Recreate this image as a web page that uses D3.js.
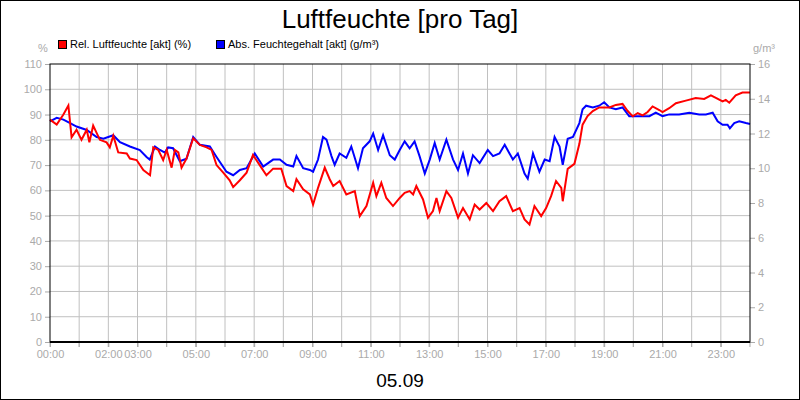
<!DOCTYPE html>
<html><head><meta charset="utf-8">
<script src="https://d3js.org/d3.v7.min.js"></script>
<style>body{margin:0;background:#fff}svg{display:block}</style>
</head><body><svg id="c" width="800" height="400"></svg>
<script>
const redTimes=[0,0.23,0.46,0.63,0.74,0.91,1.08,1.26,1.35,1.48,1.71,1.94,2.05,2.17,2.34,2.63,2.74,2.97,3.2,3.43,3.54,3.71,3.88,4.0,4.17,4.28,4.4,4.51,4.68,4.91,5.14,5.37,5.54,5.71,5.94,6.16,6.28,6.51,6.74,6.96,7.19,7.42,7.65,7.93,8.11,8.34,8.45,8.68,8.91,9.02,9.19,9.42,9.59,9.71,9.93,10.16,10.45,10.62,10.85,11.08,11.19,11.36,11.53,11.76,11.99,12.16,12.33,12.45,12.56,12.79,12.96,13.13,13.25,13.36,13.59,13.76,13.99,14.16,14.39,14.56,14.73,14.96,15.19,15.41,15.64,15.87,16.1,16.27,16.44,16.61,16.84,17.01,17.18,17.35,17.53,17.58,17.75,17.98,18.15,18.26,18.43,18.61,18.83,19.18,19.4,19.63,19.8,19.98,20.15,20.32,20.49,20.66,20.89,21.0,21.23,21.46,21.8,22.14,22.43,22.66,22.83,23.06,23.17,23.29,23.51,23.74,24];
const redValues=[88,86,90,93.6,81,84,80,84,79,85.6,80,79,77,81.6,75,74.6,72.6,72,68,66,77,76,72,76,69,76,75,69,72.6,80.6,78,77,76,70,67,64,61.3,64,67,74,70,66,68.6,68.6,61.7,59.7,64.4,60.4,58.4,54.4,61,69,64.4,61.7,63.7,58.4,59.7,49.8,53.8,63,57.7,63,57,53.8,57,59,59.7,58.4,61.7,56.4,49.2,51.8,57,51.8,59.7,57,49.2,53,48.5,54.4,52.4,55,51.8,55.7,57.7,51.8,53,48.5,46.5,53.8,49.8,53,57.7,63.7,61,55.7,68.5,70.5,78.4,86,89.4,91.4,92.8,92.8,93.8,94.2,91.5,89.3,90.6,89.7,91,93.2,91.8,91,92.5,94.5,95.5,96.5,96.2,97.6,96.6,95.2,95.8,94.7,97.6,98.7,98.7];
const blueTimes=[0,0.23,0.46,0.69,0.91,1.26,1.6,1.83,2.17,2.4,2.74,3.08,3.31,3.42,3.6,3.77,3.94,4.05,4.22,4.45,4.68,4.91,5.14,5.48,5.71,6.05,6.28,6.51,6.74,7.02,7.31,7.65,7.88,8.11,8.34,8.45,8.68,8.91,9.02,9.19,9.36,9.48,9.65,9.76,9.93,10.16,10.33,10.56,10.73,10.96,11.08,11.25,11.42,11.65,11.82,11.99,12.16,12.33,12.5,12.67,12.85,13.02,13.19,13.36,13.59,13.82,13.99,14.16,14.33,14.5,14.73,15.01,15.19,15.41,15.59,15.87,16.04,16.27,16.38,16.56,16.78,16.96,17.13,17.3,17.47,17.58,17.75,17.93,18.15,18.26,18.38,18.61,18.83,19.0,19.18,19.4,19.63,19.86,20.09,20.32,20.55,20.77,21.0,21.23,21.57,21.92,22.26,22.49,22.72,22.89,23.06,23.23,23.31,23.46,23.63,23.86,24];
const blueValues=[12.7,12.9,12.8,12.6,12.4,12.2,11.8,11.7,11.9,11.5,11.25,11.05,10.65,10.5,11.25,11.05,10.9,11.2,11.15,10.4,10.55,11.8,11.35,11.25,10.65,9.8,9.6,9.9,10.0,10.85,10.1,10.5,10.5,10.2,10.1,10.7,10.0,9.9,9.8,10.5,11.8,11.65,10.7,10.2,10.85,10.6,11.25,10.0,11.15,11.55,12.0,11.05,11.9,10.75,10.5,11.05,11.55,11.15,11.55,10.7,9.7,10.5,11.45,10.5,11.65,10.5,9.9,10.85,9.7,10.75,10.3,11.05,10.7,10.85,11.35,10.5,10.85,9.7,9.4,10.85,9.8,10.5,10.4,11.8,11.25,10.2,11.7,11.8,12.6,13.4,13.6,13.5,13.6,13.8,13.5,13.4,13.5,13.0,13.0,13.0,13.0,13.2,13.0,13.1,13.1,13.2,13.1,13.1,13.2,12.7,12.5,12.5,12.3,12.6,12.7,12.6,12.55];
const leftTicks=[0,10,20,30,40,50,60,70,80,90,100,110];
const rightTicks=[0,2,4,6,8,10,12,14,16];
const hourLabels=["00:00","02:00","03:00","05:00","07:00","09:00","11:00","13:00","15:00","17:00","19:00","21:00","23:00"];
const hourLabelPos=[0,2,3,5,7,9,11,13,15,17,19,21,23];
const hours=d3.range(0,25);
const title="Luftfeuchte [pro Tag]", dateLabel="05.09";
const seriesNames=["Rel. Luftfeuchte [akt] (%)","Abs. Feuchtegehalt [akt] (g/m³)"];

const svg=d3.select("#c"), F="Arial, 'Liberation Sans', sans-serif", G="#aaaaaa";
svg.append("rect").attr("x",0.5).attr("y",0.5).attr("width",799).attr("height",399).attr("fill","#fff").attr("stroke","#000");
const L=50,R=750,T=64,B=342;
const x=d3.scaleLinear().domain([0,24]).range([L,R]);
const yL=d3.scaleLinear().domain([0,110]).range([B,T]);
const yR=d3.scaleLinear().domain([0,16]).range([B,T]);
// grid
svg.append("g").selectAll("line").data(hours.slice(1,24)).join("line")
 .attr("x1",d=>x(d)).attr("x2",d=>x(d)).attr("y1",T).attr("y2",B+5).attr("stroke","#c0c0c0");
svg.append("g").selectAll("line").data(leftTicks.slice(1,11)).join("line")
 .attr("x1",L).attr("x2",R).attr("y1",d=>yL(d)).attr("y2",d=>yL(d)).attr("stroke","#c0c0c0");
// axes
const ax=svg.append("g").attr("transform",`translate(${L},0)`).call(d3.axisLeft(yL).tickValues(leftTicks).tickSize(5).tickPadding(3));
const axr=svg.append("g").attr("transform",`translate(${R},0)`).call(d3.axisRight(yR).tickValues(rightTicks).tickSize(5).tickPadding(3));
const axb=svg.append("g").attr("transform",`translate(0,${B})`).call(d3.axisBottom(x).tickValues(hourLabelPos).tickFormat((d,i)=>hourLabels[i]).tickSize(5).tickPadding(3));
[ax,axr,axb].forEach(a=>{a.select(".domain").remove();a.selectAll("line").attr("stroke",G);a.selectAll("text").attr("fill",G).style("font-family",F).style("font-size","11px");});
axb.selectAll(".tick").filter(d=>false);
svg.append("g").selectAll("line").data(hours).join("line").attr("x1",d=>x(d)).attr("x2",d=>x(d)).attr("y1",B).attr("y2",B+5).attr("stroke",G);
// lines
const lr=d3.line().x((d,i)=>x(redTimes[i])).y(d=>yL(d));
const lb=d3.line().x((d,i)=>x(blueTimes[i])).y(d=>yR(d));
svg.append("path").attr("d",lb(blueValues)).attr("fill","none").attr("stroke","#0000ff").attr("stroke-width",2);
svg.append("path").attr("d",lr(redValues)).attr("fill","none").attr("stroke","#ff0000").attr("stroke-width",2);
// frame
svg.append("rect").attr("x",L).attr("y",T).attr("width",R-L).attr("height",B-T).attr("fill","none").attr("stroke","#000");
svg.append("line").attr("x1",L).attr("x2",R).attr("y1",B).attr("y2",B).attr("stroke","#000").attr("stroke-width",2);
// texts
svg.append("text").attr("x",400).attr("y",28).attr("text-anchor","middle").style("font-family",F).style("font-size","26px").text(title);
svg.append("text").attr("x",400).attr("y",387).attr("text-anchor","middle").style("font-family",F).style("font-size","19px").text(dateLabel);
svg.append("text").attr("x",43).attr("y",52).attr("text-anchor","middle").attr("fill",G).style("font-family",F).style("font-size","11px").text("%");
svg.append("text").attr("x",764).attr("y",52).attr("text-anchor","middle").attr("fill",G).style("font-family",F).style("font-size","11px").text("g/m³");
const lg=[[58,"#ff0000"],[216,"#0000ff"]];
lg.forEach((l,i)=>{
 svg.append("rect").attr("x",l[0]+0.5).attr("y",40.5).attr("width",8).attr("height",8).attr("fill",l[1]).attr("stroke","#000");
 svg.append("text").attr("x",l[0]+12).attr("y",48).style("font-family",F).style("font-size","11px").text(seriesNames[i]);
});
</script></body></html>
